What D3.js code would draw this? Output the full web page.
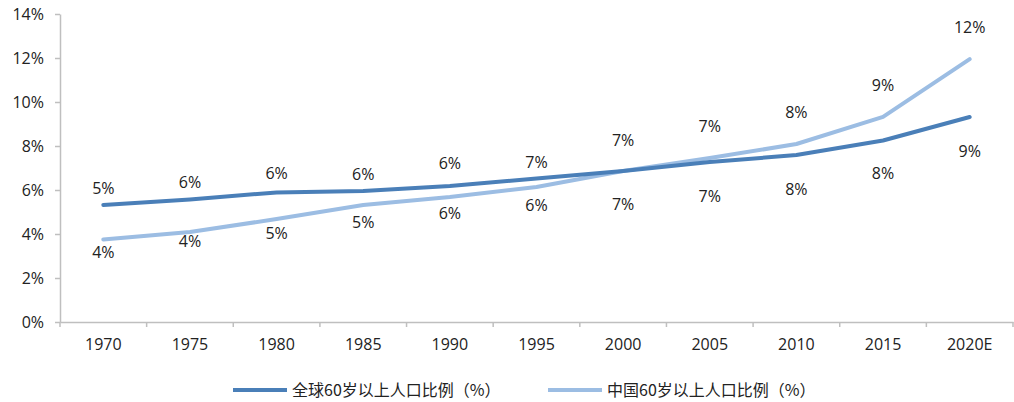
<!DOCTYPE html>
<html>
<head>
<meta charset="utf-8">
<script src="https://cdn.jsdelivr.net/npm/d3@7"></script>
<style>
  html, body { margin: 0; padding: 0; background: #fff; }
  svg { display: block; font-family: "Open Sans", "Noto Sans CJK SC", sans-serif; }
</style>
</head>
<body>
<svg id="chart" width="1014" height="402"></svg>
<script>
// Share of population aged 60+ (%), world vs China
const years = ["1970", "1975", "1980", "1985", "1990", "1995", "2000", "2005", "2010", "2015", "2020E"];
const worldShare = [5.32, 5.57, 5.89, 5.95, 6.18, 6.52, 6.86, 7.27, 7.59, 8.25, 9.32];
const chinaShare = [3.75, 4.09, 4.68, 5.32, 5.68, 6.14, 6.86, 7.45, 8.09, 9.32, 11.95];
const yTicks = [0, 2, 4, 6, 8, 10, 12, 14];
const seriesNames = ["全球60岁以上人口比例（%）", "中国60岁以上人口比例（%）"];

// label placement: vertical offset (px) of each value label from its point
const worldLabelDy = [-17, -17, -19, -17, -23, -16, 33, 34, 34, 33, 34];
const chinaLabelDy = [13, 9, 14, 17, 16, 18, -31, -32, -32, -32, -32];

const colors = ["#4a7fb8", "#9cbde3"];
const FS = 16;

const svg = d3.select("#chart");
const margin = { left: 60, right: 1, top: 14, bottom: 80 };

const x = d3.scaleBand().domain(years).range([margin.left, 1013]);
const y = d3.scaleLinear().domain([0, 14]).range([322, 14]);

const axisColor = "#bfbfbf";

// y axis
const yAxis = svg.append("g").attr("transform", `translate(${margin.left},0)`)
  .call(d3.axisLeft(y).tickValues(yTicks).tickSize(5).tickSizeOuter(0).tickFormat(d => d + "%"));
yAxis.select(".domain").attr("stroke", axisColor).attr("stroke-width", 1.5);
yAxis.selectAll(".tick line").attr("stroke", axisColor).attr("stroke-width", 1.5);
yAxis.selectAll(".tick text").attr("font-size", FS).attr("fill", "#222").attr("x", -16)
  .style("font-family", "Open Sans, sans-serif");

// x axis
const xAxis = svg.append("g").attr("transform", `translate(0,${y(0)})`)
  .call(d3.axisBottom(x).tickSize(0).tickSizeOuter(0));
xAxis.select(".domain").attr("stroke", axisColor).attr("stroke-width", 1.5);
xAxis.selectAll(".tick text").attr("font-size", FS).attr("fill", "#222").attr("dy", "1.55em")
  .style("font-family", "Open Sans, sans-serif");
// category boundary ticks
const bounds = years.map(d => x(d)).concat([x.range()[1]]);
xAxis.selectAll(".bound").data(bounds).enter().append("line")
  .attr("x1", d => d).attr("x2", d => d).attr("y1", 0).attr("y2", 5)
  .attr("stroke", axisColor).attr("stroke-width", 1.5);

const cx = d => x(d) + x.bandwidth() / 2;
const line = d3.line().x(d => cx(d.year)).y(d => y(d.v));

const series = [
  { name: seriesNames[0], vals: worldShare, dy: worldLabelDy, color: colors[0] },
  { name: seriesNames[1], vals: chinaShare, dy: chinaLabelDy, color: colors[1] }
];

// draw China first so the world line sits on top where they cross
[series[1], series[0]].forEach(s => {
  const pts = years.map((yr, i) => ({ year: yr, v: s.vals[i] }));
  svg.append("path").datum(pts).attr("d", line)
    .attr("fill", "none").attr("stroke", s.color).attr("stroke-width", 4)
    .attr("stroke-linejoin", "round").attr("stroke-linecap", "round");
});

series.forEach(s => {
  svg.append("g").selectAll("text").data(years).enter().append("text")
    .attr("x", d => cx(d))
    .attr("y", (d, i) => y(s.vals[i]) + s.dy[i])
    .attr("dy", "0.35em")
    .attr("text-anchor", "middle")
    .attr("font-size", FS).attr("fill", "#222")
    .style("font-family", "Open Sans, sans-serif")
    .text((d, i) => Math.round(s.vals[i]) + "%");
});

// legend
const legendItems = [
  { name: seriesNames[0], color: colors[0], x0: 233 },
  { name: seriesNames[1], color: colors[1], x0: 548 }
];
const lg = svg.append("g");
legendItems.forEach(it => {
  lg.append("line").attr("x1", it.x0).attr("x2", it.x0 + 54).attr("y1", 390).attr("y2", 390)
    .attr("stroke", it.color).attr("stroke-width", 4);
  lg.append("text").attr("x", it.x0 + 59).attr("y", 390).attr("dy", "0.35em")
    .attr("font-size", FS).attr("fill", "#222")
    .style("font-family", "Noto Sans CJK SC, sans-serif")
    .text(it.name);
});
</script>
</body>
</html>
